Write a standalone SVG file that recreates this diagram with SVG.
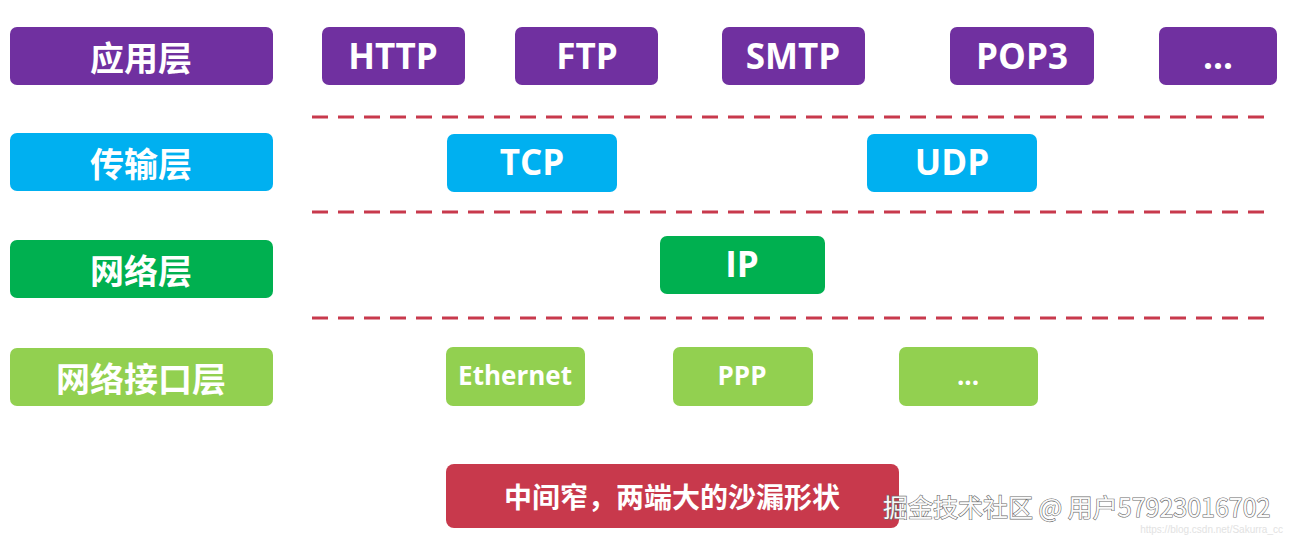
<svg xmlns="http://www.w3.org/2000/svg" width="1290" height="539" viewBox="0 0 1290 539">
<style>
.p{fill:#7030A0}.c{fill:#00B0F0}.g{fill:#00B050}.l{fill:#92D050}.r{fill:#C8394C}
.t{fill:#fff;font-family:"Open Sans","Noto Sans CJK SC",sans-serif;font-weight:700;text-anchor:middle;dominant-baseline:central}
.zh{font-family:"Noto Sans CJK SC",sans-serif;font-size:34px}
.en{font-size:35px}
.sm{font-size:26px}
.dash{stroke:#C8394C;stroke-width:3;stroke-dasharray:16 10;fill:none}
</style>
<rect width="1290" height="539" fill="#fff"/>
<g id="connectors">
<line class="dash" x1="312" y1="117" x2="1268" y2="117"/>
<line class="dash" x1="312" y1="212" x2="1268" y2="212"/>
<line class="dash" x1="312" y1="318" x2="1268" y2="318"/>
</g>
<g id="app-layer"><rect class="p" x="10" y="27" width="263" height="58" rx="7"/><text class="t zh" x="141" y="56">应用层</text></g>
<g id="http"><rect class="p" x="322" y="27" width="143" height="58" rx="7"/><text class="t en" x="393" y="55">HTTP</text></g>
<g id="ftp"><rect class="p" x="515" y="27" width="143" height="58" rx="7"/><text class="t en" x="587" y="55">FTP</text></g>
<g id="smtp"><rect class="p" x="722" y="27" width="143" height="58" rx="7"/><text class="t en" x="793" y="55">SMTP</text></g>
<g id="pop3"><rect class="p" x="950" y="27" width="144" height="58" rx="7"/><text class="t en" x="1022" y="55">POP3</text></g>
<g id="app-more"><rect class="p" x="1159" y="27" width="118" height="58" rx="7"/><text class="t en" x="1218" y="55">...</text></g>
<g id="transport-layer"><rect class="c" x="10" y="133" width="263" height="58" rx="7"/><text class="t zh" x="141" y="162">传输层</text></g>
<g id="tcp"><rect class="c" x="447" y="134" width="170" height="58" rx="7"/><text class="t en" x="532" y="161">TCP</text></g>
<g id="udp"><rect class="c" x="867" y="134" width="170" height="58" rx="7"/><text class="t en" x="952" y="161">UDP</text></g>
<g id="network-layer"><rect class="g" x="10" y="240" width="263" height="58" rx="7"/><text class="t zh" x="141" y="269">网络层</text></g>
<g id="ip"><rect class="g" x="660" y="236" width="165" height="58" rx="7"/><text class="t en" x="742" y="263">IP</text></g>
<g id="link-layer"><rect class="l" x="10" y="348" width="263" height="58" rx="7"/><text class="t zh" x="141" y="377">网络接口层</text></g>
<g id="ethernet"><rect class="l" x="446" y="347" width="139" height="59" rx="7"/><text class="t sm" x="515" y="375">Ethernet</text></g>
<g id="ppp"><rect class="l" x="673" y="347" width="140" height="59" rx="7"/><text class="t sm" x="742" y="375">PPP</text></g>
<g id="link-more"><rect class="l" x="899" y="347" width="139" height="59" rx="7"/><text class="t sm" x="968" y="375">...</text></g>
<g id="note"><rect class="r" x="446" y="464" width="453" height="64" rx="8"/><text class="t" x="672" y="496" style="font-family:'Noto Sans CJK SC',sans-serif;font-size:28px">中间窄，两端大的沙漏形状</text></g>
<text x="1283" y="533" text-anchor="end" style="font-family:'Liberation Sans','Noto Sans CJK SC',sans-serif;font-size:10px;fill:#e2e2e2">https://blog.csdn.net/Sakurra_cc</text>
<text x="883" y="517" style="font-family:'Noto Sans CJK SC',sans-serif;font-size:25px;fill:#fafafa;stroke:#6a6a6a;stroke-width:1.2;paint-order:stroke">掘金技术社区 @ 用户57923016702</text>
</svg>
